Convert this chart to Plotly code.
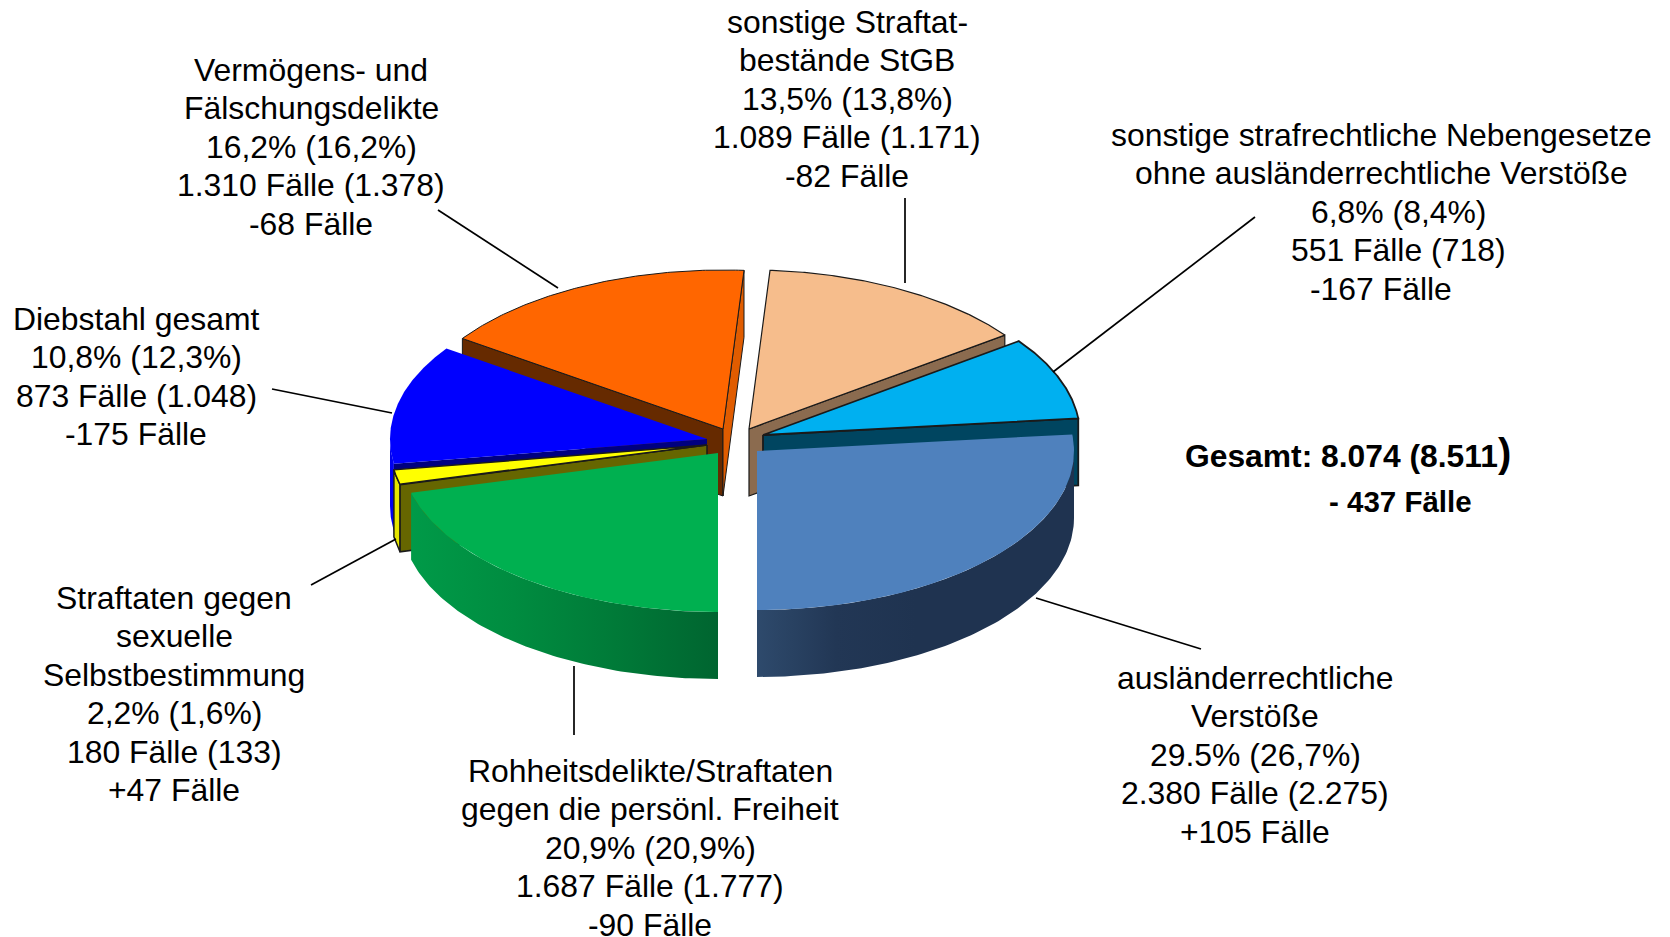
import numpy as np
import plotly.graph_objects as go

# ---------- data ----------
kategorien = [
    ["sonstige Straftat-", "bestände StGB"],
    ["sonstige strafrechtliche Nebengesetze", "ohne ausländerrechtliche Verstöße"],
    ["ausländerrechtliche", "Verstöße"],
    ["Rohheitsdelikte/Straftaten", "gegen die persönl. Freiheit"],
    ["Straftaten gegen", "sexuelle", "Selbstbestimmung"],
    ["Diebstahl gesamt"],
    ["Vermögens- und", "Fälschungsdelikte"],
]
anteil = ["13,5%", "6,8%", "29.5%", "20,9%", "2,2%", "10,8%", "16,2%"]
anteil_vorjahr = ["13,8%", "8,4%", "26,7%", "20,9%", "1,6%", "12,3%", "16,2%"]
faelle = ["1.089", "551", "2.380", "1.687", "180", "873", "1.310"]
faelle_vorjahr = ["1.171", "718", "2.275", "1.777", "133", "1.048", "1.378"]
differenz = ["-82", "-167", "+105", "-90", "+47", "-175", "-68"]
# arc of each slice as drawn in the (projected) picture, degrees
bogen_grad = [50.0, 30.2, 96.0, 75.5, 5.5, 43.7, 59.1]

# ---------- layout / style ----------
W, H = 1670, 937
START = 3.8
RX, RY, DEPTH = 317, 159, 67
mitte = [(749, 429), (763, 435), (757, 451), (718, 453), (707, 445), (707, 439), (723, 429)]
oben = ["#F6BD8C", "#00B0F0", "#4F81BD", "#00B050", "#FFFF00", "#0000FF", "#FF6600"]
fl_start = [None, None, None, None, "#666600", "#000080", "#662A00"]   # face at slice start
fl_ende = ["#8B6B4F", "#004560", None, None, None, None, "#E05C00"]  # face at slice end
aussen = [None, None,
          ["#2E4A6C", "#223755", "#1F3350", "#1F3350", "#1F3350"],
          ["#009A48", "#008C40", "#007A38", "#006530"],
          ["#E6E600", "#E6E600"], ["#0000F0", "#0000F0"], None]
umriss = [1.2, 1.8, 0, 0, 1.5, 0, 1.0]
zeichenfolge = [6, 0, 5, 4, 1, 3, 2]

starts = START + np.concatenate([[0], np.cumsum(bogen_grad)[:-1]])
fig = go.Figure()


def pkt(c, a):
    a = np.radians(a)
    return c[0] + RX * np.sin(a), c[1] - RY * np.cos(a)


def flaeche(x, y, farbe=None, lw=0, verlauf=None):
    kw = dict(x=list(x), y=list(y), mode="lines", fill="toself", hoverinfo="skip", showlegend=False,
              line=dict(color="#1a1a1a", width=lw))
    if verlauf:
        n = len(verlauf) - 1
        kw["fillgradient"] = dict(type="horizontal",
                                  colorscale=[[i / n, f] for i, f in enumerate(verlauf)])
    else:
        kw["fillcolor"] = farbe
    fig.add_trace(go.Scatter(**kw))


for i in zeichenfolge:
    c = mitte[i]
    a0, a1 = starts[i], starts[i] + bogen_grad[i]
    lw = umriss[i]
    # outer wall
    if aussen[i]:
        lo, hi = max(a0, 90), min(a1, 270)
        t = np.linspace(lo, hi, 90)
        xs, ys = pkt(c, t)
        flaeche(np.r_[xs, xs[::-1], xs[0]], np.r_[ys, ys[::-1] + DEPTH, ys[0]], verlauf=aussen[i], lw=lw)
    # flat side faces
    for ang, farbe in ((a0, fl_start[i]), (a1, fl_ende[i])):
        if farbe:
            px, py = pkt(c, ang)
            flaeche([c[0], px, px, c[0], c[0]], [c[1], py, py + DEPTH, c[1] + DEPTH, c[1]], farbe, lw)
    # top surface
    t = np.linspace(a0, a1, 120)
    xs, ys = pkt(c, t)
    flaeche(np.r_[c[0], xs, c[0]], np.r_[c[1], ys, c[1]], oben[i], lw)

# leader lines
linien = [((905, 198), (905, 283)), ((1255, 217), (1053, 372)), ((1201, 649), (1036, 598)),
          ((574, 735), (574, 666)), ((311, 585), (396, 539)), ((272, 389), (392, 413)),
          ((438, 210), (558, 288))]
for p, q in linien:
    fig.add_trace(go.Scatter(x=[p[0], q[0]], y=[p[1], q[1]], mode="lines", hoverinfo="skip", showlegend=False,
                             line=dict(color="black", width=1.7)))

# labels
erste_zeile = [22, 135, 678, 771, 598, 319, 70]
mitte_x = [847, 1381, 1255, 650, 174, 136, 311]
zeilenabstand = 38.4
FONT = "Liberation Sans"
for i in range(7):
    zeilen = kategorien[i] + [f"{anteil[i]} ({anteil_vorjahr[i]})",
                              f"{faelle[i]} Fälle ({faelle_vorjahr[i]})",
                              f"{differenz[i]} Fälle"]
    for k, z in enumerate(zeilen):
        x = mitte_x[i]
        if i == 1 and k in (2, 3):
            x += 17
        fig.add_annotation(x=x, y=erste_zeile[i] + k * zeilenabstand, text=z, showarrow=False, xref="x", yref="y",
                           xanchor="center", yanchor="middle", font=dict(family=FONT, size=31.9, color="black"))

gesamt = "8.074"
gesamt_vorjahr = "8.511"
gesamt_diff = "- 437"
fig.add_annotation(x=1183, y=453, text=f'<b>Gesamt: {gesamt} ({gesamt_vorjahr}<span style="font-size:40px">)</span></b>',
                   showarrow=False, xanchor="left", yanchor="middle", font=dict(family=FONT, size=31.8, color="black"))
fig.add_annotation(x=1327, y=501, text=f"<b>{gesamt_diff} Fälle</b>",
                   showarrow=False, xanchor="left", yanchor="middle", font=dict(family=FONT, size=29.5, color="black"))

fig.update_layout(width=W, height=H, margin=dict(l=0, r=0, t=0, b=0), paper_bgcolor="white", plot_bgcolor="white",
                  xaxis=dict(range=[0, W], visible=False), yaxis=dict(range=[H, 0], visible=False), showlegend=False)
fig.write_html("out.html", config={"displayModeBar": False},
               post_script="document.body.style.margin='0';document.documentElement.style.overflow='hidden';")
